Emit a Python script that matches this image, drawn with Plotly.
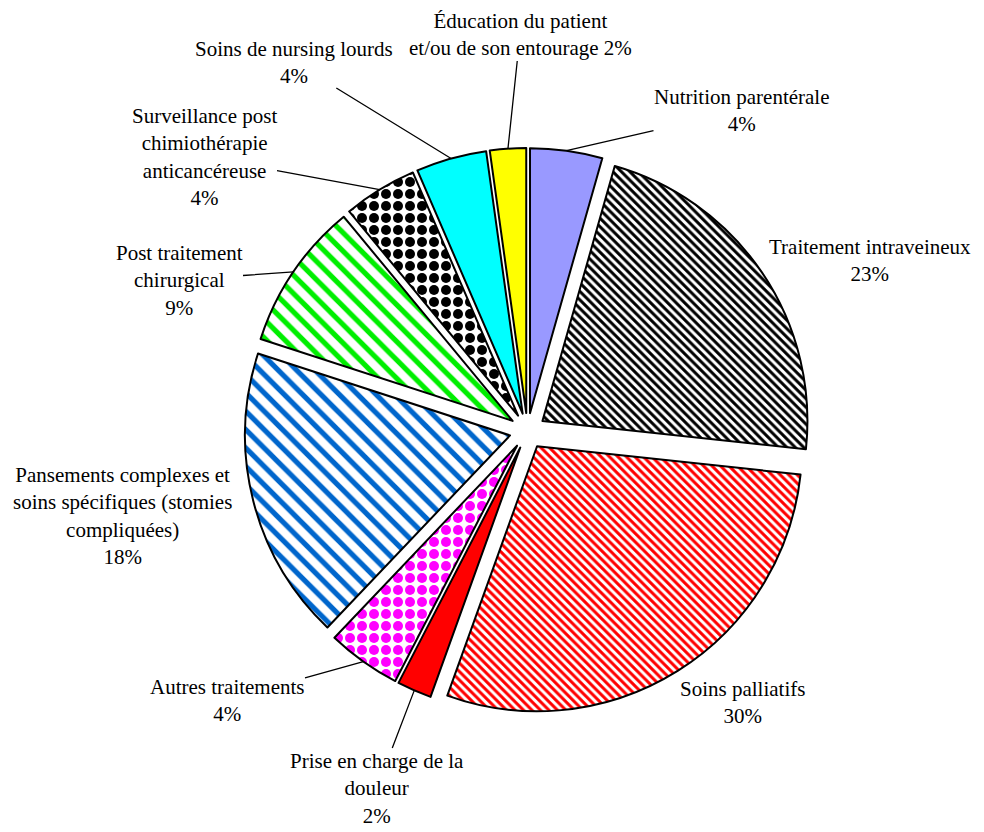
import numpy as np
import plotly.graph_objects as go

# ---------------- Data (clockwise from 12 o'clock) ----------------
categories = [
    "Nutrition parentérale",
    "Traitement intraveineux",
    "Soins palliatifs",
    "Prise en charge de la douleur",
    "Autres traitements",
    "Pansements complexes et soins spécifiques (stomies compliquées)",
    "Post traitement chirurgical",
    "Surveillance post chimiothérapie anticancéreuse",
    "Soins de nursing lourds",
    "Éducation du patient et/ou de son entourage",
]
values = [4.4, 22.3, 28.8, 2.1, 4.5, 17.9, 9.0, 4.5, 4.3, 2.2]
pct_labels = ["4%", "23%", "30%", "2%", "4%", "18%", "9%", "4%", "4%", "2%"]
label_lines = [
    "Nutrition parentérale<br>",
    "Traitement intraveineux<br>",
    "Soins palliatifs<br>",
    "Prise en charge de la<br>douleur<br>",
    "Autres traitements<br>",
    "Pansements complexes et<br>soins spécifiques (stomies<br>compliquées)<br>",
    "Post traitement<br>chirurgical<br>",
    "Surveillance post<br>chimiothérapie<br>anticancéreuse<br>",
    "Soins de nursing lourds<br>",
    "Éducation du patient<br>et/ou de son entourage ",
]

# ---------------- Styles ----------------
fill_colors = ["#9999FF", "white", "white", "#FF0000", "white", "white", "white", "white", "#00FFFF", "#FFFF00"]
pat_shapes = ["", "\\", "\\", "", ".", "\\", "\\", ".", "", ""]
pat_fg = ["black", "black", "#FF0000", "black", "#FF00FF", "#0066CC", "#00EE00", "black", "black", "black"]
pat_size = [8, 6, 6, 8, 12, 13, 13, 12, 8, 8]
pat_solid = [0.3, 0.5, 0.5, 0.3, 0.55, 0.4, 0.4, 0.55, 0.3, 0.3]

# label layout (pixel centres of the label blocks in the page) and leader-line flags
label_centers = [(742, 110), (870, 260), (742, 702), (377, 788), (227, 700),
                 (122, 516), (179, 280), (204, 157), (294, 62), (520, 35)]
leader = [True, False, False, True, True, False, True, True, True, True]

W, H = 984, 832
OFF = 8                          # page body margin of the rendered html
PULL = 0.068
CX, CY = 527.5, 431.0            # pie centre (page px)
R = 265.0                        # pie radius (px)
half = R * (1 + PULL)


def to_paper(x, y):
    return (x - OFF) / W, 1 - (y - OFF) / H


x0, y1 = to_paper(CX - half, CY - half)
x1, y0 = to_paper(CX + half, CY + half)

FONT = "Liberation Serif, Times New Roman, serif"
FS = 21

fig = go.Figure(
    go.Pie(
        labels=categories,
        values=values,
        textinfo="none",
        sort=False,
        direction="clockwise",
        rotation=0,
        pull=[PULL] * len(values),
        hoverinfo="label+percent",
        marker=dict(
            colors=fill_colors,
            line=dict(color="black", width=2),
            pattern=dict(
                shape=pat_shapes,
                fgcolor=pat_fg,
                bgcolor=["white"] * len(values),
                size=pat_size,
                solidity=pat_solid,
                fillmode="replace",
            ),
        ),
        domain=dict(x=[x0, x1], y=[y0, y1]),
        showlegend=False,
    )
)

# label annotations; leader lines point at each slice's mid-angle on its outer arc
vals = np.array(values, dtype=float)
cum = np.cumsum(vals) - vals / 2
theta = np.deg2rad(360 * cum / vals.sum())
for i in range(len(categories)):
    text = label_lines[i] + pct_labels[i]
    lx, ly = label_centers[i]
    if leader[i]:
        px = CX + half * np.sin(theta[i])
        py = CY - half * np.cos(theta[i])
        ppx, ppy = to_paper(px, py)
        fig.add_annotation(
            x=ppx, y=ppy, xref="paper", yref="paper",
            ax=lx - px, ay=ly - py, axref="pixel", ayref="pixel",
            text=text, showarrow=True, arrowhead=0, arrowwidth=1.3,
            arrowcolor="black", standoff=0, startstandoff=0,
            font=dict(family=FONT, size=FS, color="black"),
            align="center", borderpad=0,
        )
    else:
        plx, ply = to_paper(lx, ly)
        fig.add_annotation(
            x=plx, y=ply, xref="paper", yref="paper",
            text=text, showarrow=False, xanchor="center", yanchor="middle",
            font=dict(family=FONT, size=FS, color="black"), align="center",
        )

fig.update_layout(
    width=W,
    height=H,
    margin=dict(l=0, r=0, t=0, b=0),
    paper_bgcolor="white",
    plot_bgcolor="white",
    font=dict(family=FONT, size=FS, color="black"),
    showlegend=False,
)

fig.write_html("out.html")
